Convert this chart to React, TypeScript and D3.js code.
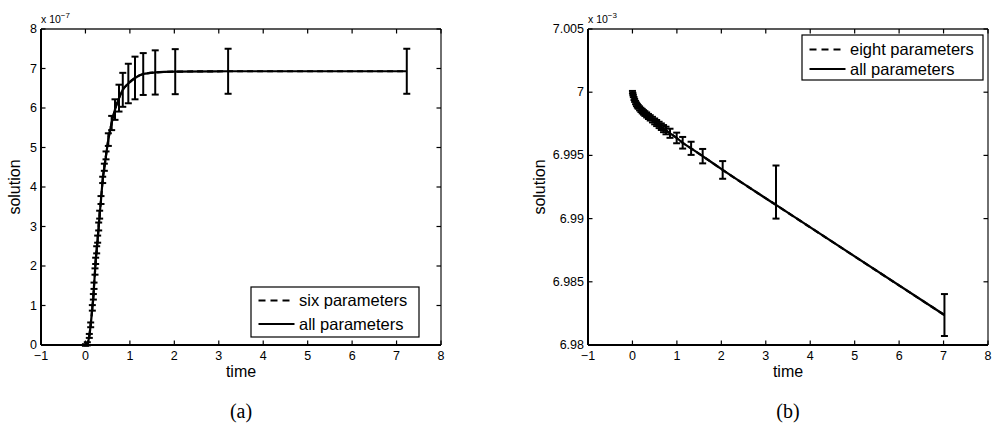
import React from "react";
import * as d3 from "d3";

// ---- Panel (a): values in units of 1e-7 ----
const leftTime = [0, 0.042, 0.087, 0.118, 0.155, 0.178, 0.193, 0.215, 0.23, 0.253, 0.275, 0.298, 0.32, 0.35, 0.388, 0.425, 0.463, 0.515, 0.59, 0.665, 0.755, 0.84, 0.965, 1.115, 1.3, 1.57, 2.02, 3.21, 7.23];
const leftValue = [0, 0.03, 0.23, 0.51, 0.94, 1.22, 1.5, 1.86, 2.13, 2.41, 2.68, 3.0, 3.3, 3.67, 4.18, 4.5, 4.8, 5.2, 5.62, 5.96, 6.25, 6.46, 6.62, 6.76, 6.86, 6.9, 6.92, 6.93, 6.93];
const leftErr = [0.02, 0.04, 0.05, 0.06, 0.07, 0.07, 0.08, 0.08, 0.08, 0.09, 0.09, 0.1, 0.1, 0.1, 0.08, 0.09, 0.1, 0.16, 0.18, 0.26, 0.34, 0.43, 0.5, 0.54, 0.53, 0.56, 0.57, 0.57, 0.57];
const leftSeries = ["six parameters", "all parameters"];

// ---- Panel (b): values in units of 1e-3 ----
const rightTime = [0, 0.01, 0.02, 0.035, 0.05, 0.07, 0.09, 0.11, 0.13, 0.16, 0.19, 0.22, 0.25, 0.28, 0.32, 0.36, 0.4, 0.45, 0.5, 0.545, 0.6, 0.65, 0.7, 0.755, 0.845, 0.995, 1.13, 1.32, 1.58, 2.03, 3.23, 7.02];
const rightValue = [7.0, 6.99985, 6.9997, 6.9995, 6.99935, 6.99918, 6.99904, 6.99893, 6.99884, 6.99872, 6.9986, 6.9985, 6.9984, 6.99831, 6.9982, 6.99808, 6.99797, 6.99783, 6.99769, 6.99756, 6.99741, 6.99727, 6.99712, 6.99697, 6.99675, 6.99638, 6.996, 6.99556, 6.99494, 6.99385, 6.99108, 6.98237];
const rightErrUp = [0.0001, 0.0001, 0.0001, 0.00012, 0.00012, 0.00013, 0.00014, 0.00015, 0.00015, 0.00016, 0.00017, 0.00018, 0.00018, 0.00019, 0.0002, 0.0002, 0.00021, 0.00022, 0.00023, 0.00024, 0.00025, 0.00026, 0.00028, 0.0003, 0.00036, 0.00042, 0.00046, 0.00052, 0.00057, 0.0007, 0.00312, 0.00166];
const rightErrDown = [0.0001, 0.0001, 0.0001, 0.00012, 0.00012, 0.00013, 0.00014, 0.00015, 0.00015, 0.00016, 0.00017, 0.00018, 0.00018, 0.00019, 0.0002, 0.0002, 0.00021, 0.00022, 0.00023, 0.00024, 0.00025, 0.00026, 0.00028, 0.0003, 0.00036, 0.00042, 0.00046, 0.00052, 0.00057, 0.0007, 0.00108, 0.00166];
const rightSeries = ["eight parameters", "all parameters"];

const xTicks = [-1, 0, 1, 2, 3, 4, 5, 6, 7, 8];
const leftYTicks = [0, 1, 2, 3, 4, 5, 6, 7, 8];
const rightYTicks = [6.98, 6.985, 6.99, 6.995, 7.0, 7.005];

const SANS = "'Liberation Sans', Arial, Helvetica, sans-serif";

type PanelProps = {
  left: number;
  right: number;
  top: number;
  bottom: number;
  yDomain: [number, number];
  yTicks: number[];
  yFmt: (d: number) => string;
  exponent: string;
  times: number[];
  values: number[];
  errUp: number[];
  errDown: number[];
  series: string[];
  legend: { x0: number; x1: number; y0: number; y1: number; row1: number; row2: number };
  yLabelX: number;
  caption: string;
};

function Panel(p: PanelProps) {
  const x = d3.scaleLinear().domain([-1, 8]).range([p.left, p.right]);
  const y = d3.scaleLinear().domain(p.yDomain).range([p.bottom, p.top]);
  const pts = p.times.map((t, i) => [t, p.values[i]] as [number, number]);
  const line = d3
    .line<[number, number]>()
    .x((d) => x(d[0]))
    .y((d) => y(d[1]))
    .curve(d3.curveMonotoneX);
  const path = line(pts) || "";
  const tickLen = 4.5;
  const cap = 3.5;
  const cx = (p.left + p.right) / 2;
  const cy = (p.top + p.bottom) / 2;
  const L = p.legend;
  return (
    <g>
      {p.times.map((t, i) => {
        const xx = x(t);
        const y1 = y(p.values[i] + p.errUp[i]);
        const y2 = y(p.values[i] - p.errDown[i]);
        return (
          <g key={"e" + i} stroke="#000" strokeWidth={2}>
            <line x1={xx} x2={xx} y1={y1} y2={y2} />
            <line x1={xx - cap} x2={xx + cap} y1={y1} y2={y1} />
            <line x1={xx - cap} x2={xx + cap} y1={y2} y2={y2} />
          </g>
        );
      })}
      <path d={path} fill="none" stroke="#000" strokeWidth={2.2} />
      <path d={path} fill="none" stroke="#000" strokeWidth={2.2} strokeDasharray="6,4" />
      <line x1={p.left} x2={p.right} y1={p.top} y2={p.top} stroke="#222" strokeWidth={1.3} />
      <line x1={p.right} x2={p.right} y1={p.top} y2={p.bottom} stroke="#222" strokeWidth={1.3} />
      <line x1={p.left} x2={p.right} y1={p.bottom} y2={p.bottom} stroke="#000" strokeWidth={2} />
      <line x1={p.left} x2={p.left} y1={p.top} y2={p.bottom} stroke="#000" strokeWidth={2} />
      {xTicks.map((t) => (
        <g key={"xt" + t}>
          <line x1={x(t)} x2={x(t)} y1={p.bottom} y2={p.bottom - tickLen} stroke="#000" strokeWidth={1.2} />
          <line x1={x(t)} x2={x(t)} y1={p.top} y2={p.top + tickLen} stroke="#000" strokeWidth={1.2} />
          <text x={x(t)} y={p.bottom + 15} textAnchor="middle" fontFamily={SANS} fontSize={12.5} fill="#000">
            {t < 0 ? "\u2212" + Math.abs(t) : String(t)}
          </text>
        </g>
      ))}
      {p.yTicks.map((t) => (
        <g key={"yt" + t}>
          <line x1={p.left} x2={p.left + tickLen} y1={y(t)} y2={y(t)} stroke="#000" strokeWidth={1.2} />
          <line x1={p.right} x2={p.right - tickLen} y1={y(t)} y2={y(t)} stroke="#000" strokeWidth={1.2} />
          <text x={p.left - 4} y={y(t) + 4} textAnchor="end" fontFamily={SANS} fontSize={12.5} fill="#000">
            {p.yFmt(t)}
          </text>
        </g>
      ))}
      <text x={p.left} y={p.top - 6} fontFamily={SANS} fontSize={10.5} fill="#000">
        x 10
        <tspan dy={-5} fontSize={8}>{p.exponent}</tspan>
      </text>
      <text x={cx} y={p.bottom + 32} textAnchor="middle" fontFamily={SANS} fontSize={16} fill="#000">
        time
      </text>
      <text
        transform={`translate(${p.yLabelX},${cy}) rotate(-90)`}
        textAnchor="middle"
        fontFamily={SANS}
        fontSize={16}
        fill="#000"
      >
        solution
      </text>
      <rect x={L.x0} y={L.y0} width={L.x1 - L.x0} height={L.y1 - L.y0} fill="#fff" stroke="#000" strokeWidth={1.2} />
      <line x1={L.x0 + 7.5} x2={L.x0 + 43.5} y1={L.row1} y2={L.row1} stroke="#000" strokeWidth={2} strokeDasharray="7,5" />
      <line x1={L.x0 + 7.5} x2={L.x0 + 43.5} y1={L.row2} y2={L.row2} stroke="#000" strokeWidth={2} />
      <text x={L.x0 + 48} y={L.row1 + 5.5} fontFamily={SANS} fontSize={16.5} fill="#000">
        {p.series[0]}
      </text>
      <text x={L.x0 + 48} y={L.row2 + 5.5} fontFamily={SANS} fontSize={16.5} fill="#000">
        {p.series[1]}
      </text>
      <text x={cx} y={418} textAnchor="middle" fontFamily="'Liberation Serif', 'DejaVu Serif', serif" fontSize={20} fill="#000">
        {p.caption}
      </text>
    </g>
  );
}

export default function App() {
  return (
    <svg width={995} height={435} style={{ position: "absolute", left: 0, top: 0, background: "#fff" }}>
      <rect x={0} y={0} width={995} height={435} fill="#fff" />
      <Panel
        left={41}
        right={441}
        top={29}
        bottom={345}
        yDomain={[0, 8]}
        yTicks={leftYTicks}
        yFmt={(d) => String(d)}
        exponent="−7"
        times={leftTime}
        values={leftValue}
        errUp={leftErr}
        errDown={leftErr}
        series={leftSeries}
        legend={{ x0: 251, x1: 419, y0: 287, y1: 337, row1: 300.5, row2: 324 }}
        yLabelX={20}
        caption="(a)"
      />
      <Panel
        left={588}
        right={988}
        top={29}
        bottom={345}
        yDomain={[6.98, 7.005]}
        yTicks={rightYTicks}
        yFmt={(d) => String(+d.toFixed(3))}
        exponent="−3"
        times={rightTime}
        values={rightValue}
        errUp={rightErrUp}
        errDown={rightErrDown}
        series={rightSeries}
        legend={{ x0: 802, x1: 983, y0: 35, y1: 80, row1: 49.5, row2: 69 }}
        yLabelX={545}
        caption="(b)"
      />
    </svg>
  );
}
